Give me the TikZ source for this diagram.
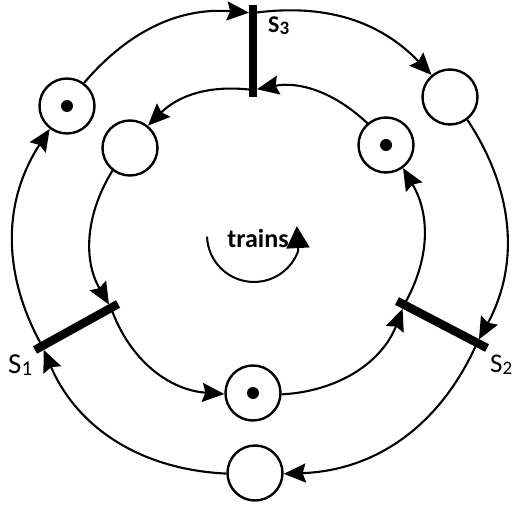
\documentclass[tikz,border=0pt]{standalone}
\usepackage{fontspec}
\setmainfont{Carlito}
\usetikzlibrary{arrows.meta,calc}

\tikzset{
  place/.style={circle,draw,line width=2.4pt,minimum size=55pt,inner sep=0pt},
  marked/.style={place,path picture={\fill (path picture bounding box.center) circle (6pt);}},
  flow/.style={line width=2.1pt,-{Stealth[length=22pt,width=19pt,inset=3pt]}},
  bar/.style={line width=8.5pt},
  lbl/.style={font=\fontsize{29}{29}\selectfont,inner sep=0pt,anchor=base west},
}
\newcommand{\sub}[2]{\raisebox{-2pt}{\fontsize{#1}{#1}\selectfont #2}}

\begin{document}
\begin{tikzpicture}[x=1pt,y=1pt]
  \useasboundingbox (0,0) rectangle (514,504);

  % places, outer ring then inner ring
  \node[marked] (pol) at (67,398) {};
  \node[place]  (por) at (450,407) {};
  \node[place]  (pob) at (255,31) {};
  \node[place]  (pil) at (130,356) {};
  \node[marked] (pir) at (386,359) {};
  \node[marked] (pib) at (253,111) {};

  % transitions: bar ends and the points where the rings cross them
  \coordinate (s3a) at (253,499); \coordinate (s3b) at (253,407);
  \coordinate (s3o) at (253,491); \coordinate (s3i) at (253,414);
  \coordinate (s1a) at (35,154);  \coordinate (s1b) at (118,200);
  \coordinate (s1o) at (42,158);  \coordinate (s1i) at (111,196);
  \coordinate (s2a) at (397,203); \coordinate (s2b) at (487,156);
  \coordinate (s2o) at (477,161); \coordinate (s2i) at (404,199);

  % outer ring, clockwise
  \draw[flow] (s1o) to[bend left=31] (pol);
  \draw[flow,shorten >=4pt] (pol) to[bend left=27] (s3o);
  \draw[flow] (s3o) to[bend left=27] (por);
  \draw[flow,shorten >=4pt] (por) to[bend left=31] (s2o);
  \draw[flow] (s2o) to[bend left=32] (pob);
  \draw[flow,shorten >=4pt] (pob) to[bend left=32] (s1o);

  % inner ring, anticlockwise
  \draw[flow] (s3i) to[bend right=26] (pil);
  \draw[flow,shorten >=4pt] (pil) to[bend right=31] (s1i);
  \draw[flow] (s1i) to[bend right=33] (pib);
  \draw[flow,shorten >=4pt] (pib) to[bend right=33] (s2i);
  \draw[flow] (s2i) to[bend right=30] (pir);
  \draw[flow,shorten >=4pt] (pir) to[bend right=27] (s3i);

  \draw[bar] (s1a) -- (s1b);
  \draw[bar] (s2a) -- (s2b);
  \draw[bar] (s3a) -- (s3b);

  \node[lbl] (l1) at (8,131) {S\sub{21}{1}};
  \node[lbl,font=\fontsize{27}{27}\selectfont] (l2) at (490,132) {S\sub{19}{2}};
  \node[lbl,font=\bfseries\fontsize{24}{24}\selectfont] (l3) at (268,471) {S\sub{19}{3}};

  % direction of the trains
  \coordinate (tc) at (253,269);
  \draw[line width=2pt,-{Triangle[length=22pt,width=23pt]}]
    ($(tc)+(182:46)$) arc[start angle=182,end angle=340,radius=47] -- ++(93:25);
  \node[font=\bfseries\fontsize{26}{26}\selectfont,anchor=base] (trains) at (258,256) {trains};
\end{tikzpicture}
\end{document}
